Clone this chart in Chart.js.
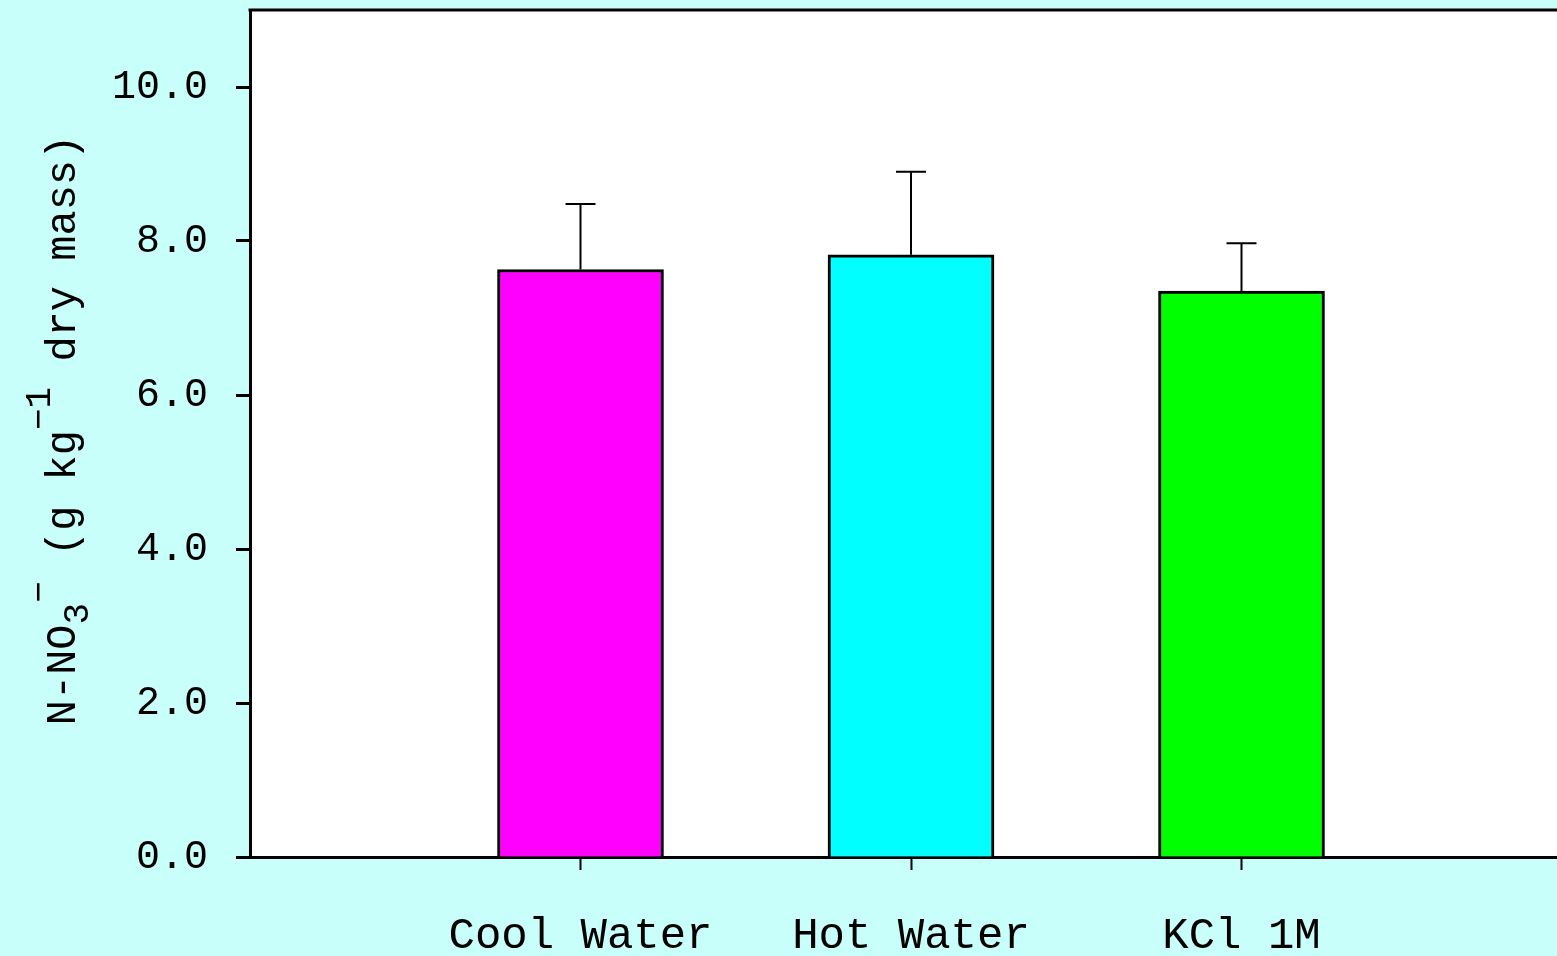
<!DOCTYPE html>
<html>
<head>
<meta charset="utf-8">
<title>N-NO3 extraction</title>
<script src="https://cdn.jsdelivr.net/npm/chart.js@4"></script>
<style>
  html, body { margin: 0; padding: 0; overflow: hidden; background: #c8fffb; }
  #chart { display: block; }
</style>
</head>
<body>
<canvas id="chart" width="1600" height="956"></canvas>
<script>
// data
const categories = ['', 'Cool Water', 'Hot Water', 'KCl 1M', ''];
const means = [null, 7.63, 7.82, 7.35, null];
const errors = [null, 0.85, 1.08, 0.62, null];
const barColors = ['#ffffff', '#ff00ff', '#00ffff', '#00ff00', '#ffffff'];
const yTicks = [0, 2, 4, 6, 8, 10];

const FONT = '"Liberation Mono", "DejaVu Sans Mono", monospace';

// cyan page, white plot area, top frame line
const background = {
    id: 'background',
    beforeDraw(chart) {
        const ctx = chart.ctx;
        const a = chart.chartArea;
        ctx.save();
        ctx.fillStyle = '#c8fffb';
        ctx.fillRect(0, 0, chart.width, chart.height);
        ctx.fillStyle = '#ffffff';
        ctx.fillRect(a.left, a.top, a.right - a.left, a.bottom - a.top);
        ctx.restore();
    },
    afterDraw(chart) {
        const ctx = chart.ctx;
        const a = chart.chartArea;
        ctx.save();
        ctx.strokeStyle = '#000';
        ctx.lineWidth = 3;
        ctx.beginPath();
        ctx.moveTo(a.left - 1.5, a.top);
        ctx.lineTo(a.right, a.top);
        ctx.stroke();
        ctx.restore();
    }
};

// upper error bars
const errorBars = {
    id: 'errorBars',
    afterDatasetsDraw(chart) {
        const ctx = chart.ctx;
        const meta = chart.getDatasetMeta(0);
        const y = chart.scales.y;
        ctx.save();
        ctx.strokeStyle = '#000';
        ctx.lineWidth = 2;
        meta.data.forEach((bar, i) => {
            if (means[i] == null) return;
            const top = y.getPixelForValue(means[i] + errors[i]);
            const base = y.getPixelForValue(means[i]);
            ctx.beginPath();
            ctx.moveTo(bar.x, base);
            ctx.lineTo(bar.x, top);
            ctx.moveTo(bar.x - 15, top);
            ctx.lineTo(bar.x + 15, top);
            ctx.stroke();
        });
        ctx.restore();
    }
};

// rotated y title with sub/superscripts
const yTitle = {
    id: 'yTitle',
    afterDraw(chart) {
        const ctx = chart.ctx;
        const parts = [
            { t: 'N-NO', size: 42, dy: 0 },
            { t: '3', size: 36, dy: 13 },
            { t: '\u2212', size: 36, dy: -25 },
            { t: ' (g kg', size: 42, dy: 0 },
            { t: '\u22121', size: 36, dy: -25 },
            { t: ' dry mass)', size: 42, dy: 0 }
        ];
        ctx.save();
        ctx.fillStyle = '#000';
        ctx.textBaseline = 'alphabetic';
        let total = 0;
        parts.forEach(p => {
            ctx.font = p.size + 'px ' + FONT;
            p.w = ctx.measureText(p.t).width;
            total += p.w;
        });
        ctx.translate(75, 430);
        ctx.rotate(-Math.PI / 2);
        let x = -total / 2;
        parts.forEach(p => {
            ctx.font = p.size + 'px ' + FONT;
            ctx.fillText(p.t, x, p.dy);
            x += p.w;
        });
        ctx.restore();
    }
};

new Chart(document.getElementById('chart'), {
    type: 'bar',
    data: {
        labels: categories,
        datasets: [{
            data: means,
            backgroundColor: barColors,
            borderColor: '#000',
            borderWidth: 3,
            borderSkipped: 'bottom',
            barThickness: 166
        }]
    },
    options: {
        responsive: false,
        animation: false,
        layout: { padding: { top: 10, right: 28, left: 0, bottom: 0 } },
        plugins: {
            legend: { display: false },
            tooltip: { enabled: false }
        },
        scales: {
            x: {
                offset: false,
                afterFit(scale) {
                    scale.height = 99;
                    scale.paddingLeft = 0;
                    scale.paddingRight = 0;
                },
                grid: {
                    offset: false,
                    drawOnChartArea: false,
                    drawTicks: true,
                    tickLength: 13,
                    tickWidth: 2,
                    tickColor: ctx => (categories[ctx.index] ? '#000' : 'rgba(0,0,0,0)')
                },
                border: { display: true, color: '#000', width: 3 },
                ticks: {
                    color: '#000',
                    font: { family: FONT, size: 44 },
                    padding: 40,
                    maxRotation: 0,
                    autoSkip: false
                }
            },
            y: {
                min: 0,
                max: 11,
                afterFit(scale) {
                    scale.width = 250;
                    scale.paddingTop = 0;
                    scale.paddingBottom = 0;
                },
                afterBuildTicks(scale) {
                    scale.ticks = yTicks.map(v => ({ value: v }));
                },
                grid: {
                    drawOnChartArea: false,
                    drawTicks: true,
                    tickLength: 14,
                    tickWidth: 3,
                    tickColor: '#000'
                },
                border: { display: true, color: '#000', width: 3 },
                ticks: {
                    color: '#000',
                    font: { family: FONT, size: 40 },
                    padding: 28,
                    callback: v => v.toFixed(1)
                }
            }
        }
    },
    plugins: [background, errorBars, yTitle]
});
</script>
</body>
</html>
